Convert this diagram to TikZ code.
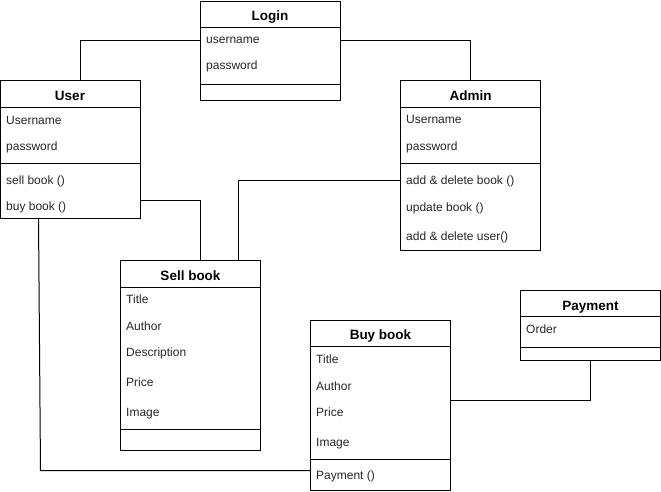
\documentclass[tikz,border=0pt]{standalone}
\usepackage{fontspec}
\setmainfont{Liberation Sans}
\begin{document}
\begin{tikzpicture}[x=1pt,y=-1pt,
  box/.style={draw, line width=1pt, minimum width=140pt, anchor=north west, inner sep=0pt, outer sep=0pt},
  ttl/.style={font=\fontsize{13.5}{16}\selectfont\bfseries, anchor=base, inner sep=0pt},
  attr/.style={font=\fontsize{12}{14}\selectfont, anchor=base west, inner sep=0pt, text=black!85},
  sep/.style={line width=1pt},
  conn/.style={draw, line width=1pt}]
\useasboundingbox (0,0) rectangle (661,491);

% Login
\node[box, minimum height=99pt] (login) at (200,1) {};
\node[ttl] (loginT) at (270,20.5) {Login};
\draw[sep] (login.west |- 0,27) -- (login.east |- 0,27);
\node[attr] (loginA1) at (206,43.7) {username};
\node[attr] (loginA2) at (206,69.7) {password};
\draw[sep] (login.west |- 0,84.5) -- (login.east |- 0,84.5);

% User
\node[box, minimum height=138pt] (user) at (0.5,80.5) {};
\node[ttl] (userT) at (70,100) {User};
\draw[sep] (user.west |- 0,107) -- (user.east |- 0,107);
\node[attr] (userA1) at (6,124) {Username};
\node[attr] (userA2) at (6,150) {password};
\draw[sep] (user.west |- 0,163) -- (user.east |- 0,163);
\node[attr] (userM1) at (6,184.3) {sell book ()};
\node[attr] (userM2) at (6,210) {buy book ()};

% Admin
\node[box, minimum height=170pt] (admin) at (400.5,80.5) {};
\node[ttl] (adminT) at (470.5,100) {Admin};
\draw[sep] (admin.west |- 0,107) -- (admin.east |- 0,107);
\node[attr] (adminA1) at (406,123.5) {Username};
\node[attr] (adminA2) at (406,150) {password};
\draw[sep] (admin.west |- 0,163) -- (admin.east |- 0,163);
\node[attr] (adminM1) at (406,184.3) {add \& delete book ()};
\node[attr] (adminM2) at (406,211) {update book ()};
\node[attr] (adminM3) at (406,240) {add \& delete user()};

% Sell book
\node[box, minimum height=190pt] (sell) at (120.5,260.5) {};
\node[ttl] (sellT) at (190.5,280) {Sell book};
\draw[sep] (sell.west |- 0,287) -- (sell.east |- 0,287);
\node[attr] (sellA1) at (126,303.3) {Title};
\node[attr] (sellA2) at (126,330) {Author};
\node[attr] (sellA3) at (126,356.7) {Description};
\node[attr] (sellA4) at (126,386.7) {Price};
\node[attr] (sellA5) at (126,416.7) {Image};
\draw[sep] (sell.west |- 0,429.5) -- (sell.east |- 0,429.5);

% Buy book
\node[box, minimum height=170pt] (buy) at (310.5,320.5) {};
\node[ttl] (buyT) at (380.5,339.5) {Buy book};
\draw[sep] (buy.west |- 0,346.5) -- (buy.east |- 0,346.5);
\node[attr] (buyA1) at (316,363.3) {Title};
\node[attr] (buyA2) at (316,390) {Author};
\node[attr] (buyA3) at (316,416.7) {Price};
\node[attr] (buyA4) at (316,446.7) {Image};
\draw[sep] (buy.west |- 0,459.5) -- (buy.east |- 0,459.5);
\node[attr] (buyM1) at (316,479) {Payment ()};

% Payment
\node[box, minimum height=70pt] (pay) at (520.5,290.5) {};
\node[ttl] (payT) at (590.5,310) {Payment};
\draw[sep] (pay.west |- 0,316.5) -- (pay.east |- 0,316.5);
\node[attr] (payA1) at (526,333.3) {Order};
\draw[sep] (pay.west |- 0,347) -- (pay.east |- 0,347);

% connectors
\coordinate (c1) at (80.5,40);
\coordinate (c2) at (470.5,40);
\coordinate (c3) at (200.5,200.5);
\coordinate (c4) at (238.5,180.5);
\coordinate (c5) at (40.5,470.5);
\coordinate (c6) at (590.5,400.5);
\draw[conn] (login.west |- c1) -- (c1) -- (c1 |- user.north);
\draw[conn] (login.east |- c2) -- (c2) -- (c2 |- admin.north);
\draw[conn] (user.east |- c3) -- (c3) -- (c3 |- sell.north);
\draw[conn] (admin.west |- c4) -- (c4) -- (c4 |- sell.north);
\draw[conn] (38.5,0 |- user.south) -- (c5) -- (buy.west |- c5);
\draw[conn] (buy.east |- c6) -- (c6) -- (c6 |- pay.south);
\end{tikzpicture}
\end{document}
